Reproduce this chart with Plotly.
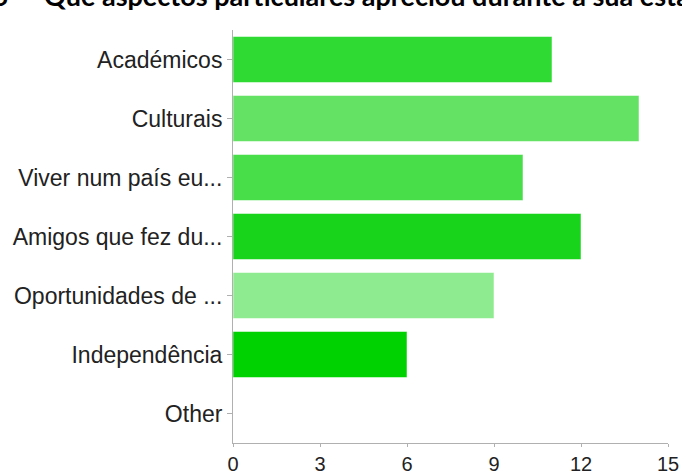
import plotly.graph_objects as go

categories = ["Académicos", "Culturais", "Viver num país eu...", "Amigos que fez du...",
              "Oportunidades de ...", "Independência", "Other"]
values = [11, 14, 10, 12, 9, 6, 0]
colors = ["#2fdb32", "#63e263", "#47de4a", "#18d41b", "#8feb8f", "#00d100", "#00d100"]
x_ticks = [0, 3, 6, 9, 12, 15]
title_text = "3.5\u00a0 – Que aspectos particulares apreciou durante a sua estadia?"

PL, PR, PT, PB = 233, 14, 30, 32
PW = 682 - PL - PR
PH = 475 - PT - PB

fig = go.Figure(go.Bar(
    x=values, y=categories, orientation="h",
    marker=dict(color=colors, line=dict(color="rgba(255,255,255,0.5)", width=1)),
    width=0.78,
    hoverinfo="skip",
))

fig.update_layout(
    width=682, height=475,
    margin=dict(l=PL, r=PR, t=PT, b=PB, autoexpand=False),
    plot_bgcolor="white", paper_bgcolor="white",
    showlegend=False,
    font=dict(family="Liberation Sans, Arial, sans-serif", size=20, color="#222222"),
    xaxis=dict(range=[0, 15], tickvals=x_ticks, showgrid=False, zeroline=False,
               showline=True, linecolor="#b0b0b0", linewidth=1, automargin=False,
               ticks="outside", ticklen=3, tickcolor="#b0b0b0",
               tickfont=dict(size=20, color="#222222")),
    yaxis=dict(categoryorder="array", categoryarray=categories[::-1], automargin=False,
               showgrid=False, zeroline=False, showline=True, linecolor="#b0b0b0",
               linewidth=1, ticks="outside", ticklen=5, tickcolor="#b0b0b0",
               tickfont=dict(size=23, color="#222222")),
    annotations=[dict(text="<b>" + title_text + "</b>", xref="paper", yref="paper",
                      x=(-PL - 31) / PW, y=1 + (PT - 14) / PH,
                      xanchor="left", yanchor="bottom", showarrow=False,
                      font=dict(family="Lato, sans-serif", size=27, color="black"))],
)

fig.write_html("out.html", config={"displayModeBar": False},
               post_script="document.body.style.margin='0px';")
